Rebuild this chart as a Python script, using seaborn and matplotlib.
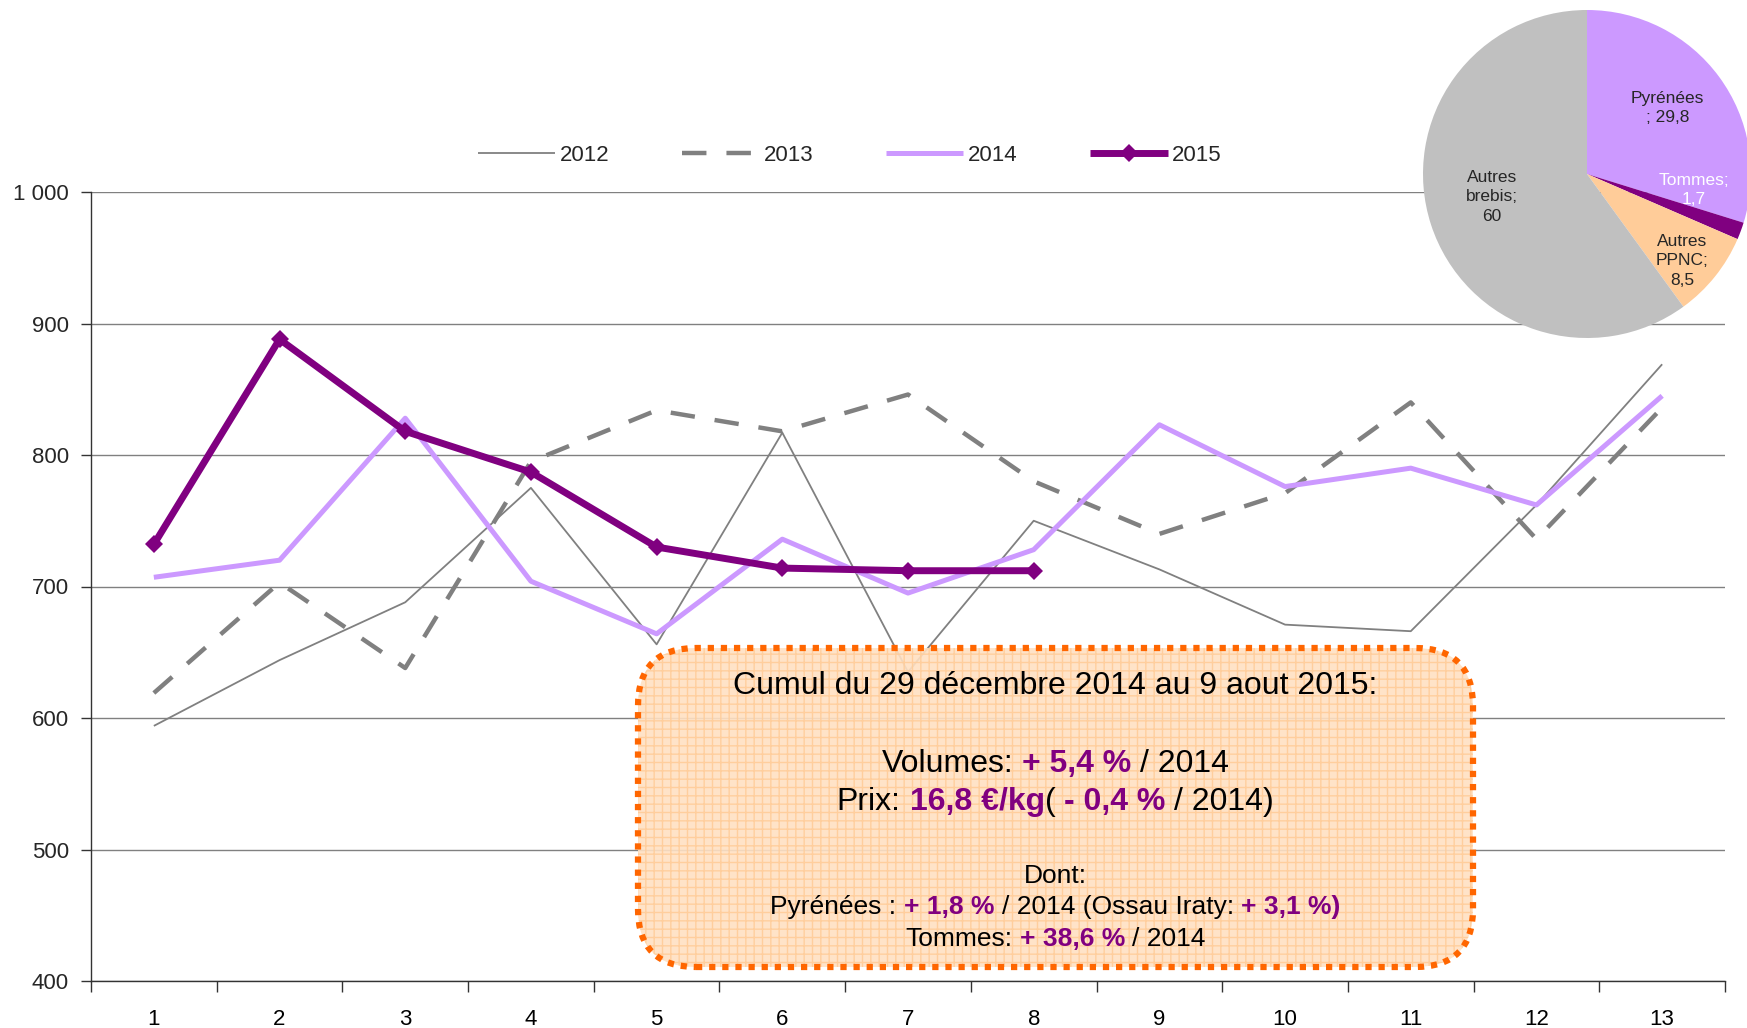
import numpy as np
import pandas as pd
import seaborn as sns
import matplotlib
matplotlib.use("Agg")
import matplotlib.pyplot as plt
from matplotlib.patches import FancyBboxPatch
from matplotlib.transforms import IdentityTransform
from matplotlib.lines import Line2D

# ---------------- data ----------------
weeks = list(range(1, 14))
y2012 = [594, 644, 688, 775, 656, 817, 635, 750, 713, 671, 666, 762, 869]
y2013 = [619, 703, 638, 795, 834, 818, 846, 780, 740, 771, 840, 736, 836]
y2014 = [707, 720, 828, 704, 664, 736, 695, 728, 823, 776, 790, 762, 845]
y2015 = [732, 888, 818, 787, 730, 714, 712, 712]
series_names = ["2012", "2013", "2014", "2015"]
ytick_values = [400, 500, 600, 700, 800, 900, 1000]
ytick_labels = ["400", "500", "600", "700", "800", "900", "1 000"]

pie_labels = ["Pyrénées\n; 29,8", "Tommes;\n1,7", "Autres\nPPNC;\n8,5", "Autres\nbrebis;\n60"]
pie_values = [29.8, 1.7, 8.5, 60]

# ---------------- style ----------------
sns.set_theme(style="white")
plt.rcParams["font.family"] = ["Liberation Sans", "DejaVu Sans"]

W, H = 1747, 1028
fig = plt.figure(figsize=(W / 100, H / 100), dpi=100)
ax = fig.add_axes([91 / W, 1 - 981 / H, (1725 - 91) / W, (981 - 192) / H])

grey = "#808080"
lilac = "#CC99FF"
purple = "#800080"

sns.lineplot(x=weeks, y=y2012, ax=ax, color=grey, linewidth=1.3, label="2012")
sns.lineplot(x=weeks, y=y2013, ax=ax, color=grey, linewidth=3.2, label="2013")
sns.lineplot(x=weeks, y=y2014, ax=ax, color=lilac, linewidth=3.6, label="2014")
sns.lineplot(x=weeks[:len(y2015)], y=y2015, ax=ax, color=purple, linewidth=5,
             marker="D", markersize=9.5, markeredgewidth=0, label="2015")
lines = ax.get_lines()
lines[1].set_dashes((5.5, 4.5))
for ln in lines:
    ln.set_solid_capstyle("butt")

ax.set_xlim(0.5, 13.5)
ax.set_ylim(400, 1000)
ax.set_xticks(weeks)
ax.set_xticklabels([str(w) for w in weeks])
ax.set_xticks(np.arange(0.5, 13.6, 1), minor=True)
ax.tick_params(axis="x", which="major", length=0, pad=20, labelsize=16, colors="black")
ax.tick_params(axis="x", which="minor", length=8, width=1, color="#333333", direction="out", bottom=True)
ax.set_yticks(ytick_values)
ax.set_yticklabels(ytick_labels)
ax.tick_params(axis="y", length=7, width=1, color="#333333", direction="out", left=True, pad=9, labelsize=16)
ax.yaxis.grid(True, color=grey, linewidth=1)
ax.xaxis.grid(False)
for s in ["top", "right"]:
    ax.spines[s].set_visible(False)
for s in ["left", "bottom"]:
    ax.spines[s].set_color("#333333")
    ax.spines[s].set_linewidth(1)
ax.set_xlabel("")
ax.set_ylabel("")
if ax.get_legend() is not None:
    ax.get_legend().remove()

# legend
handles = [Line2D([], [], color=grey, lw=1.3),
           Line2D([], [], color=grey, lw=3.2, dashes=(5.5, 4.5)),
           Line2D([], [], color=lilac, lw=3.6),
           Line2D([], [], color=purple, lw=5, marker="D", markersize=9.5, markeredgewidth=0)]
for h in handles:
    h.set_solid_capstyle("butt")
    h.set_dash_capstyle("butt")
fig.legend(handles, series_names, loc="center", bbox_to_anchor=(0.4863, 0.849), ncol=4,
           frameon=False, fontsize=16, handlelength=3.5, handletextpad=0.2, columnspacing=3.25)

# ---------------- pie inset ----------------
pax = fig.add_axes([1423 / W, (H - 338) / H, 328 / W, 328 / H])
wedges, texts = pax.pie(pie_values, colors=[lilac, purple, "#FFCC99", "#C0C0C0"],
                        startangle=90, counterclock=False, labels=pie_labels,
                        labeldistance=0.6, radius=1,
                        textprops=dict(fontsize=12.5, ha="center", va="center", linespacing=1.35),
                        wedgeprops=dict(linewidth=0))
pax.set_xlim(-1, 1)
pax.set_ylim(-1, 1)
label_pos = [(0.49, 0.40), (0.65, -0.10), (0.58, -0.53), (-0.58, -0.14)]
for t, p in zip(texts, label_pos):
    t.set_position(p)
texts[1].set_color("white")

# ---------------- annotation box ----------------
idt = IdentityTransform()
bx0, bx1, by_top, by_bot = 638, 1473, 648, 967
box_fill = FancyBboxPatch((bx0, H - by_bot), bx1 - bx0, by_bot - by_top,
                          boxstyle="round,pad=0,rounding_size=58", transform=idt,
                          facecolor="#FFE0C2", edgecolor="#FFCC99", hatch="++", linewidth=0,
                          alpha=0.9, zorder=5)
fig.patches.append(box_fill)
box_edge = FancyBboxPatch((bx0, H - by_bot), bx1 - bx0, by_bot - by_top,
                          boxstyle="round,pad=0,rounding_size=58", transform=idt,
                          facecolor="none", edgecolor="#FF6600", linewidth=4.5,
                          linestyle=(0, (1, 1.1)), zorder=6)
fig.patches.append(box_edge)

renderer = fig.canvas.get_renderer()


def seg_width(txt, size, weight):
    t = fig.text(0, 0, txt, fontsize=size, weight=weight, transform=idt)
    w = t.get_window_extent(renderer).width
    t.remove()
    return w


def rich_line(xc, y, segments, size):
    sp_cache = {}
    items = []
    total = 0
    for txt, color, weight in segments:
        if weight not in sp_cache:
            sp_cache[weight] = seg_width("x x", size, weight) - seg_width("xx", size, weight)
        sp = sp_cache[weight]
        lead = len(txt) - len(txt.lstrip(" "))
        trail = len(txt) - len(txt.rstrip(" "))
        core = txt.strip(" ")
        w = seg_width(core, size, weight) if core else 0
        items.append((core, color, weight, lead * sp, w, trail * sp))
        total += lead * sp + w + trail * sp
    x = xc - total / 2
    for core, color, weight, lw_, w, tw in items:
        x += lw_
        if core:
            fig.text(x, y, core, fontsize=size, color=color, weight=weight,
                     transform=idt, ha="left", va="baseline", zorder=7)
        x += w + tw


xc = (bx0 + bx1) / 2
rich_line(xc, H - 694, [("Cumul du 29 décembre 2014 au 9 aout 2015:", "black", "normal")], 23)
rich_line(xc, H - 772, [("Volumes: ", "black", "normal"), ("+ 5,4 %", purple, "bold"),
                        (" / 2014", "black", "normal")], 23)
rich_line(xc, H - 810, [("Prix: ", "black", "normal"), ("16,8 €/kg", purple, "bold"),
                        ("( ", "black", "normal"), ("- 0,4 %", purple, "bold"),
                        (" / 2014)", "black", "normal")], 23)
rich_line(xc, H - 883, [("Dont:", "black", "normal")], 19)
rich_line(xc, H - 914, [("Pyrénées : ", "black", "normal"), ("+ 1,8 %", purple, "bold"),
                        (" / 2014 (Ossau Iraty: ", "black", "normal"), ("+ 3,1 %)", purple, "bold")], 19)
rich_line(xc, H - 946, [("Tommes: ", "black", "normal"), ("+ 38,6 %", purple, "bold"),
                        (" / 2014", "black", "normal")], 19)

fig.savefig("out.png", dpi=100)
